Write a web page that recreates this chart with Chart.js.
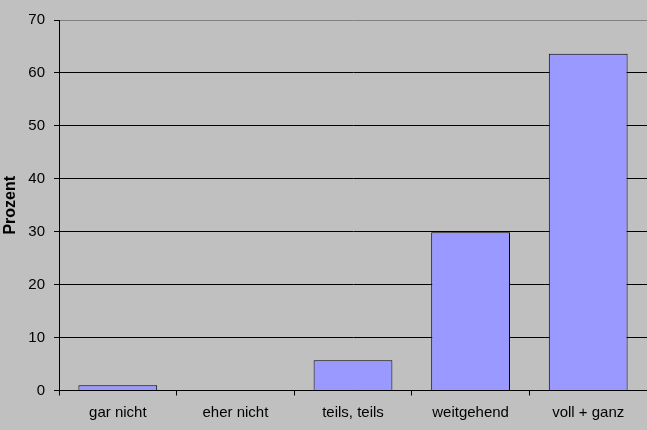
<!DOCTYPE html>
<html>
<head>
<meta charset="utf-8">
<script src="https://cdn.jsdelivr.net/npm/chart.js@4/dist/chart.umd.min.js"></script>
<style>
  html, body { margin: 0; padding: 0; background: #c0c0c0; }
  #wrap { width: 647px; height: 430px; }
</style>
</head>
<body>
<div id="wrap"><canvas id="barChart"></canvas></div>
<script>
// Antwortkategorien und Anteile in Prozent
const categories = ["gar nicht", "eher nicht", "teils, teils", "weitgehend", "voll + ganz"];
const percentValues = [1.0, 0, 5.7, 29.9, 63.6];
const yTicks = [0, 10, 20, 30, 40, 50, 60, 70];

document.addEventListener("DOMContentLoaded", function() {
    const ctx = document.getElementById("barChart").getContext("2d");

    Chart.defaults.font.family = "'Liberation Sans', Arial, sans-serif";
    Chart.defaults.color = "#000";

    new Chart(ctx, {
        type: "bar",
        data: {
            labels: categories,
            datasets: [{
                data: percentValues,
                backgroundColor: "#9999ff",
                borderColor: "#000",
                borderWidth: 1,
                barPercentage: 0.67,
                categoryPercentage: 1.0
            }]
        },
        options: {
            responsive: true,
            maintainAspectRatio: false,
            animation: false,
            layout: { padding: { top: 20, right: 0, left: 0, bottom: 0 } },
            plugins: {
                legend: { display: false },
                tooltip: { enabled: false }
            },
            scales: {
                x: {
                    afterFit: function(scale) { scale.height = 39.5; },
                    grid: {
                        offset: true,
                        drawOnChartArea: false,
                        drawTicks: true,
                        tickLength: 5,
                        tickColor: "#000"
                    },
                    border: { color: "#000", width: 1 },
                    ticks: { font: { size: 15 }, padding: 8, maxRotation: 0 }
                },
                y: {
                    min: 0,
                    max: 70,
                    afterFit: function(scale) { scale.width = 59; },
                    afterBuildTicks: function(scale) {
                        scale.ticks = yTicks.map(v => ({ value: v }));
                    },
                    grid: {
                        color: function(c) { return c.tick && c.tick.value === 70 ? "#808080" : "#000"; },
                        lineWidth: 1,
                        tickLength: 5,
                        tickColor: "#000"
                    },
                    border: { color: "#000", width: 1 },
                    ticks: { font: { size: 15 }, padding: 9 },
                    title: {
                        display: true,
                        text: "Prozent",
                        font: { size: 16, weight: "bold" },
                        padding: { top: 1, bottom: 4 }
                    }
                }
            }
        }
    });
});
</script>
</body>
</html>
